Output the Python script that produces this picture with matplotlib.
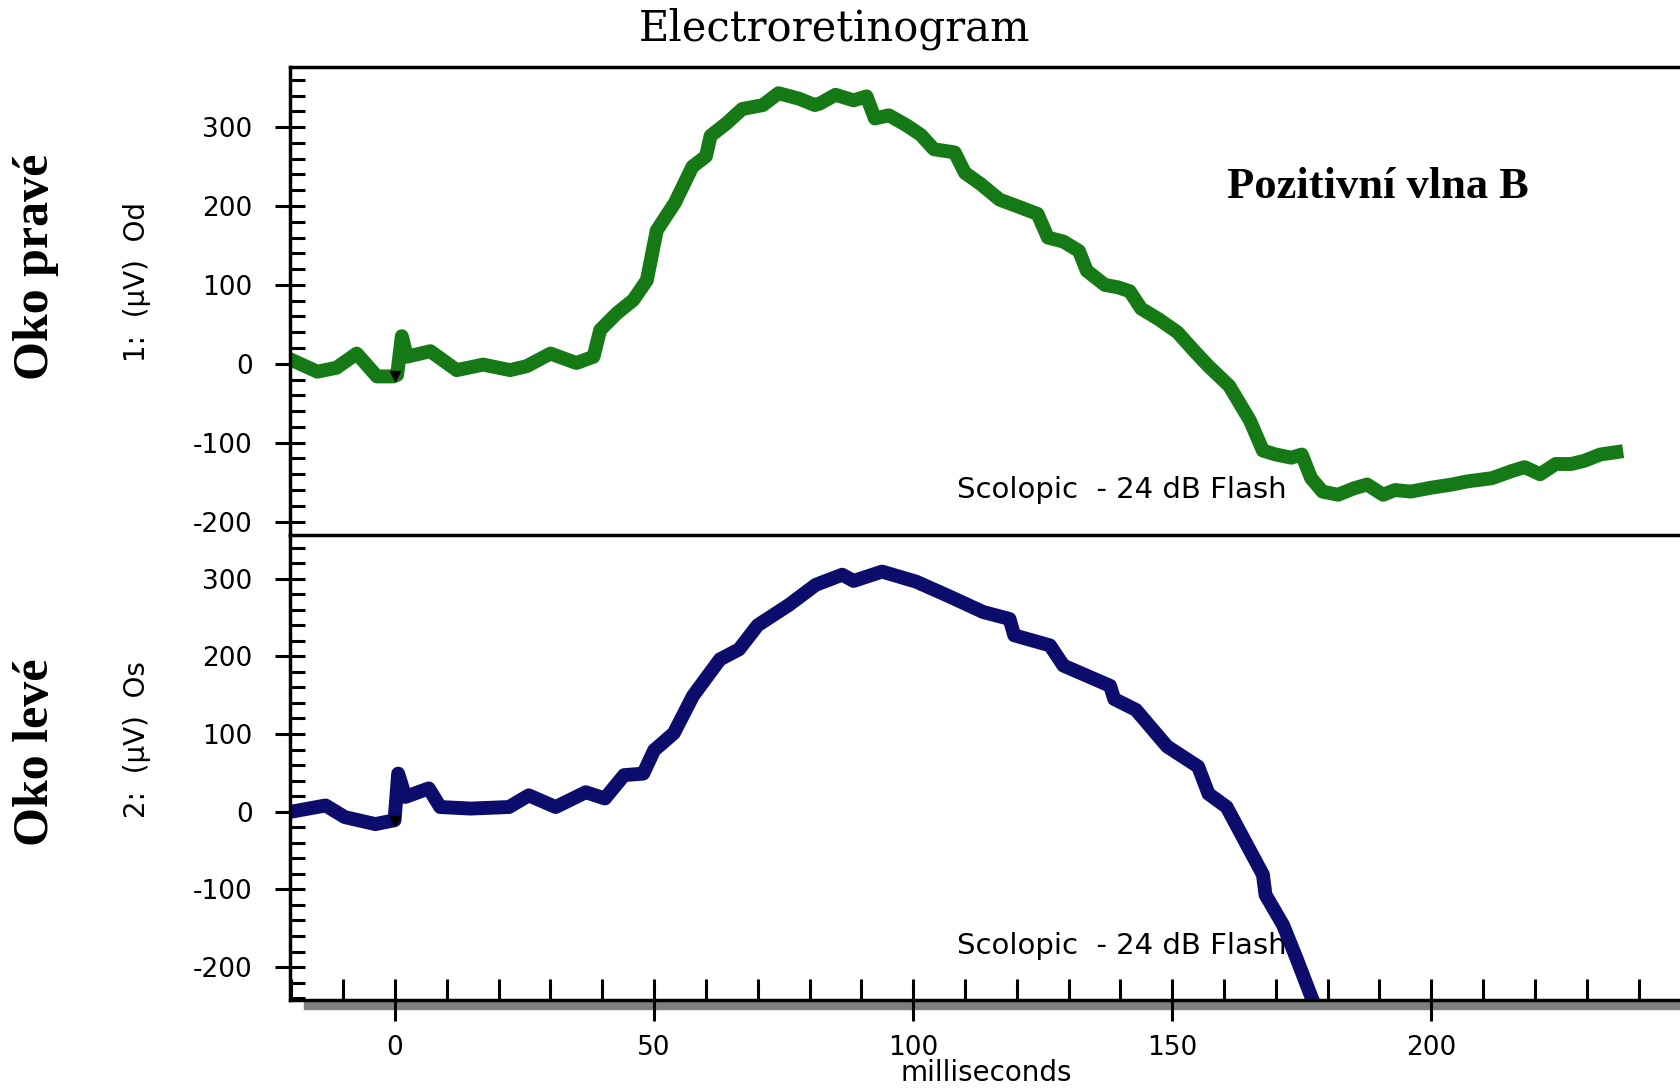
import matplotlib
matplotlib.use("Agg")
import matplotlib.pyplot as plt
from matplotlib.ticker import MultipleLocator
from matplotlib.patches import Rectangle

# --- data (time in ms, amplitude in uV) ---
od_time = [-20, -15, -11.3, -7.4, -3.5, -0.3, 0.4, 1.3, 2.3, 6.8, 11.9, 17, 22.2, 25.4,
           30, 35, 38.3, 39.6, 42.8, 46, 48.6, 50.5, 54, 57.4, 60, 60.9, 64, 67, 71, 74,
           78, 81, 82, 85, 88.5, 91, 92.6, 95.3, 98.8, 101.5, 104, 108, 110, 113, 116.7,
           120, 124, 126, 129, 132, 133.5, 137, 139.5, 141.8, 144, 147.5, 151, 154, 157,
           161, 165, 167.5, 170, 173, 175, 176.8, 179, 182, 185, 187.6, 190.7, 193, 196,
           200, 204, 207, 211.7, 215.5, 218, 221, 224, 227, 229.5, 232.6, 235.7]
od_uv = [5, -10, -5, 13, -16, -16, -14, 35, 9, 16, -8, -1, -8, -3,
         13, 1, 9, 43, 64, 81, 106, 169, 204, 250, 263, 289, 305, 323, 328, 343,
         336, 328, 330, 341, 334, 339, 311, 315, 302, 290, 272, 268, 242, 228, 208,
         200, 190, 160, 155, 143, 118, 100, 97, 92, 70, 56, 40, 18, -3,
         -28, -72, -110, -115, -119, -115, -145, -162, -166, -158, -153, -166, -160, -162,
         -157, -153, -149, -145, -136, -131, -140, -127, -127, -123, -115, -112]

os_time = [-20, -13.4, -9.7, -3.8, -0.1, 0.6, 2, 6.5, 8.7, 14.6, 22, 25.8, 31, 36.8,
           40.5, 44.2, 47.9, 50, 53.8, 57.5, 62.7, 66.4, 70, 76, 81.2, 86.3, 88.5, 94,
           100.6, 107, 113.5, 118.6, 119.5, 126.4, 129, 138, 138.8, 143, 149, 155, 157,
           160.5, 165, 167.5, 168, 171.4, 174, 177, 179]
os_uv = [0, 8, -7, -16, -11, 49, 19, 30, 6, 4, 6, 21, 6, 25,
         17, 47, 49, 79, 101, 149, 196, 209, 240, 266, 292, 305, 297, 309,
         296, 277, 257, 248, 227, 214, 188, 162, 145, 131, 84, 58, 23,
         6, -50, -81, -107, -146, -189, -241, -275]

stim_time = [0, 0]
stim_uv = [-16, -12]

panel_labels = ["1:  (µV)  Od", "2:  (µV)  Os"]
eye_labels = ["Oko pravé", "Oko levé"]
note = "Scolopic  - 24 dB Flash"

plt.rcParams["axes.unicode_minus"] = False
plt.rcParams["font.family"] = "DejaVu Sans"

fig = plt.figure(figsize=(16.8, 10.89), dpi=100)
left = 290.4 / 1680
ax1 = fig.add_axes([left, 0.5083, 1 - left, 0.9383 - 0.5083])
ax2 = fig.add_axes([left, 0.0820, 1 - left, 0.5083 - 0.0820])

ax1.plot(od_time, od_uv, color="#157a15", lw=10, solid_joinstyle="round", zorder=2)
ax2.plot(os_time, os_uv, color="#0c0c6c", lw=10, solid_joinstyle="round", zorder=2)
ax1.plot(stim_time[0], stim_uv[0], marker="v", color="black", ms=7, zorder=3)
ax2.plot(stim_time[1], stim_uv[1], marker="v", color="black", ms=7, zorder=3)

ax1.set_ylim(-217.6, 376)
ax2.set_ylim(-242, 355.5)

for ax in (ax1, ax2):
    ax.set_facecolor("none")
    ax.set_xlim(-20.2, 248)
    ax.yaxis.set_major_locator(MultipleLocator(100))
    ax.yaxis.set_minor_locator(MultipleLocator(20))
    ax.tick_params(axis="y", which="major", direction="inout", length=21.6,
                   width=2.2, pad=16.4, labelsize=19)
    ax.tick_params(axis="y", which="minor", direction="in", length=11, width=2.2)
    ax.spines["right"].set_visible(False)
    for s in ("left", "top", "bottom"):
        ax.spines[s].set_linewidth(2.5)

ax1.spines["bottom"].set_visible(False)
ax1.tick_params(axis="x", which="both", bottom=False, labelbottom=False)
ax2.xaxis.set_major_locator(MultipleLocator(50))
ax2.xaxis.set_minor_locator(MultipleLocator(10))
ax2.tick_params(axis="x", which="major", direction="inout", length=30,
                width=2.2, pad=10.5, labelsize=19)
ax2.tick_params(axis="x", which="minor", direction="in", length=15, width=2.2)

# grey bar under the time axis
fig.add_artist(Rectangle((304 / 1680, 1 - 1009 / 1089), 1 - 304 / 1680, 9 / 1089,
                         transform=fig.transFigure, color="#808080", zorder=-1))

ax1.text(0.4797, 0.0972, note, transform=ax1.transAxes, fontsize=21,
         ha="left", va="center", zorder=1)
ax2.text(0.4797, 0.1157, note, transform=ax2.transAxes, fontsize=21,
         ha="left", va="center", zorder=1)

fig.text(0.0815, 0.741, panel_labels[0], rotation=90, ha="center", va="center", fontsize=20)
fig.text(0.0815, 0.321, panel_labels[1], rotation=90, ha="center", va="center", fontsize=20)

fig.text(0.0214, 0.755, eye_labels[0], rotation=90, ha="center", va="center",
         fontsize=36, fontweight="bold", family="Liberation Serif")
fig.text(0.0214, 0.309, eye_labels[1], rotation=90, ha="center", va="center",
         fontsize=36, fontweight="bold", family="Liberation Serif")

fig.text(0.497, 0.9624, "Electroretinogram", ha="center", va="baseline",
         fontsize=30, family="DejaVu Serif")
fig.text(0.82, 0.8182, "Pozitivní vlna B", ha="center", va="baseline",
         fontsize=32, fontweight="bold", family="Liberation Serif")
fig.text(0.587, 0.0075, "milliseconds", ha="center", va="baseline", fontsize=20)

fig.savefig("out.png", dpi=100, facecolor="white")
